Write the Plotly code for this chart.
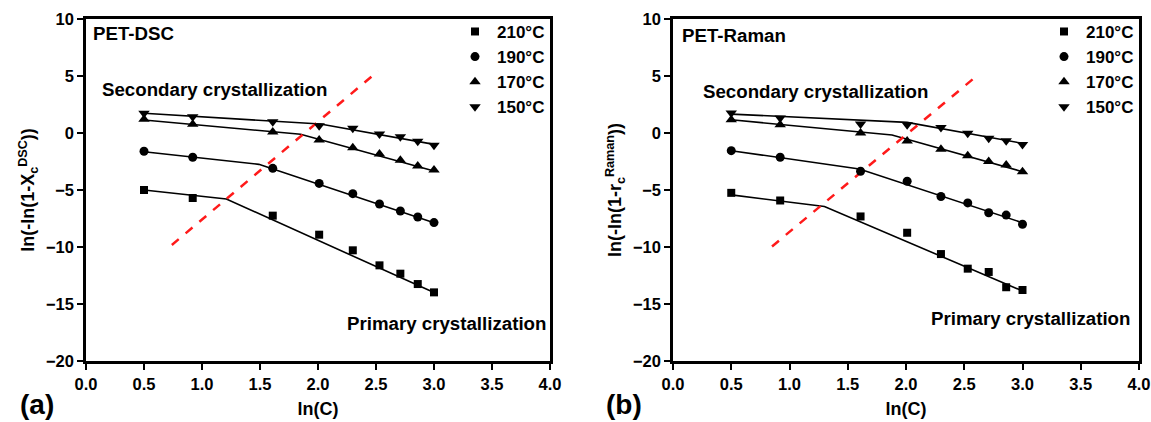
import plotly.graph_objects as go

# ---------------- data ----------------
ln_c = [0.5, 0.92, 1.61, 2.01, 2.30, 2.53, 2.71, 2.86, 3.0]
temps = ["210°C", "190°C", "170°C", "150°C"]

# PET-DSC (panel a)
dsc_210 = [-5.0, -5.70, -7.25, -8.92, -10.29, -11.61, -12.34, -13.25, -13.98]
dsc_190 = [-1.60, -2.13, -3.10, -4.42, -5.32, -6.23, -6.84, -7.37, -7.86]
dsc_170 = [1.20, 0.76, 0.09, -0.61, -1.29, -1.84, -2.40, -2.89, -3.25]
dsc_150 = [1.73, 1.43, 0.99, 0.64, 0.41, -0.09, -0.32, -0.73, -1.08]

# two-segment fits (panel a): x breakpoints and y values
dsc_fit_x = {"210": [0.5, 1.21, 3.0], "190": [0.5, 1.49, 3.0],
             "170": [0.5, 1.85, 3.0], "150": [0.5, 2.02, 3.0]}
dsc_fit_y = {"210": [-5.0, -5.79, -14.0], "190": [-1.64, -2.75, -7.87],
             "170": [1.14, -0.11, -3.33], "150": [1.73, 0.79, -1.0]}
dsc_div_x = [0.74, 2.52]
dsc_div_y = [-9.82, 5.45]

# PET-Raman (panel b)
ram_210 = [-5.25, -5.92, -7.32, -8.75, -10.62, -11.90, -12.19, -13.53, -13.77]
ram_190 = [-1.55, -2.13, -3.36, -4.23, -5.57, -6.13, -7.00, -7.20, -8.00]
ram_170 = [1.16, 0.73, 0.0, -0.70, -1.43, -1.99, -2.51, -2.80, -3.39]
ram_150 = [1.75, 1.31, 0.79, 0.73, 0.49, -0.03, -0.47, -0.67, -1.00]

ram_fit_x = {"210": [0.5, 1.30, 3.0], "190": [0.5, 1.60, 3.0],
             "170": [0.5, 1.88, 3.0], "150": [0.5, 2.01, 3.0]}
ram_fit_y = {"210": [-5.43, -6.45, -13.86], "190": [-1.55, -3.15, -7.87],
             "170": [1.16, -0.18, -3.39], "150": [1.66, 0.93, -0.91]}
ram_div_x = [0.85, 2.63]
ram_div_y = [-9.95, 5.2]

# ---------------- style ----------------
FONT = "Liberation Sans"
symbols = ["square", "circle", "triangle-up", "triangle-down"]
sizes = [8, 9, 10, 10]
keys = ["210", "190", "170", "150"]

fig = go.Figure()

panels = [
    ("x", "y", "legend", [dsc_210, dsc_190, dsc_170, dsc_150], dsc_fit_x, dsc_fit_y, dsc_div_x, dsc_div_y),
    ("x2", "y2", "legend2", [ram_210, ram_190, ram_170, ram_150], ram_fit_x, ram_fit_y, ram_div_x, ram_div_y),
]

for xa, ya, leg, series, fx, fy, dx, dy in panels:
    for k in keys:
        fig.add_trace(go.Scatter(x=fx[k], y=fy[k], mode="lines", xaxis=xa, yaxis=ya,
                                 line=dict(color="black", width=1.6), showlegend=False,
                                 hoverinfo="skip"))
    fig.add_trace(go.Scatter(x=dx, y=dy, mode="lines", xaxis=xa, yaxis=ya,
                             line=dict(color="#ff1a1a", width=2.5, dash="dash"),
                             showlegend=False, hoverinfo="skip"))
    for name, vals, sym, sz in zip(temps, series, symbols, sizes):
        fig.add_trace(go.Scatter(x=ln_c, y=vals, mode="markers", name=name, xaxis=xa, yaxis=ya,
                                 legend=leg,
                                 marker=dict(symbol=sym, size=sz, color="black")))

axis_common = dict(showline=True, linewidth=2.5, linecolor="black", mirror=True,
                   ticks="outside", ticklen=6, tickwidth=2, tickcolor="black",
                   showgrid=False, zeroline=False, automargin=False,
                   tickfont=dict(family=FONT, size=16.5, color="black", weight="bold"))

xdom_a = [86 / 1151, 550 / 1151]
xdom_b = [673 / 1151, 1139 / 1151]
ydom = [1 - 361 / 422, 1 - 19 / 422]

xt = dict(range=[0, 4], tickvals=[0, 0.5, 1, 1.5, 2, 2.5, 3, 3.5, 4], tickformat=".1f")
yt = dict(range=[-20, 10], tickvals=[-20, -15, -10, -5, 0, 5, 10])
title_font = dict(family=FONT, size=18, color="black", weight="bold")
leg_font = dict(family=FONT, size=17, color="black", weight="bold")

fig.update_layout(
    template="none",
    width=1151, height=422,
    margin=dict(l=0, r=0, t=0, b=0, pad=0),
    paper_bgcolor="white", plot_bgcolor="white",
    font=dict(family=FONT, color="black"),
    xaxis=dict(domain=xdom_a, anchor="y", **xt, **axis_common,
               title=dict(text="ln(C)", font=title_font, standoff=11)),
    yaxis=dict(domain=ydom, anchor="x", **yt, **axis_common,
               title=dict(text="ln(-ln(1-X<sub>c</sub><sup>DSC</sup>))", font=title_font, standoff=7)),
    xaxis2=dict(domain=xdom_b, anchor="y2", **xt, **axis_common,
                title=dict(text="ln(C)", font=title_font, standoff=11)),
    yaxis2=dict(domain=ydom, anchor="x2", **yt, **axis_common,
                title=dict(text="ln(-ln(1-r<sub>c</sub><sup>Raman</sup>))", font=title_font, standoff=7)),
    legend=dict(x=xdom_a[1], xanchor="right", y=ydom[1] + 0.012, yanchor="top",
                bgcolor="rgba(0,0,0,0)", font=leg_font, tracegroupgap=0, itemwidth=34),
    legend2=dict(x=xdom_b[1], xanchor="right", y=ydom[1] + 0.012, yanchor="top",
                 bgcolor="rgba(0,0,0,0)", font=leg_font, tracegroupgap=0, itemwidth=34),
)

ann_font = dict(family=FONT, size=18.7, color="black", weight="bold")
anns = [
    dict(text="PET-DSC", xref="x domain", yref="y domain", x=0.011, y=0.959, xanchor="left", yanchor="middle"),
    dict(text="Secondary crystallization", xref="x", yref="y", x=0.12, y=3.8, xanchor="left", yanchor="middle"),
    dict(text="Primary crystallization", xref="x domain", yref="y", x=0.996, y=-16.67, xanchor="right", yanchor="middle"),
    dict(text="PET-Raman", xref="x2 domain", yref="y2 domain", x=0.015, y=0.953, xanchor="left", yanchor="middle"),
    dict(text="Secondary crystallization", xref="x2", yref="y2", x=0.24, y=3.6, xanchor="left", yanchor="middle"),
    dict(text="Primary crystallization", xref="x2 domain", yref="y2", x=0.985, y=-16.25, xanchor="right", yanchor="middle"),
]
for a in anns:
    fig.add_annotation(showarrow=False, font=ann_font, **a)

for lab, xp in [("(a)", 18 / 1151), ("(b)", 604 / 1151)]:
    fig.add_annotation(text=lab, xref="paper", yref="paper", x=xp, y=1 - 404 / 422,
                       xanchor="left", yanchor="middle", showarrow=False,
                       font=dict(family=FONT, size=28, color="black", weight="bold"))

fig.write_html("out.html")
